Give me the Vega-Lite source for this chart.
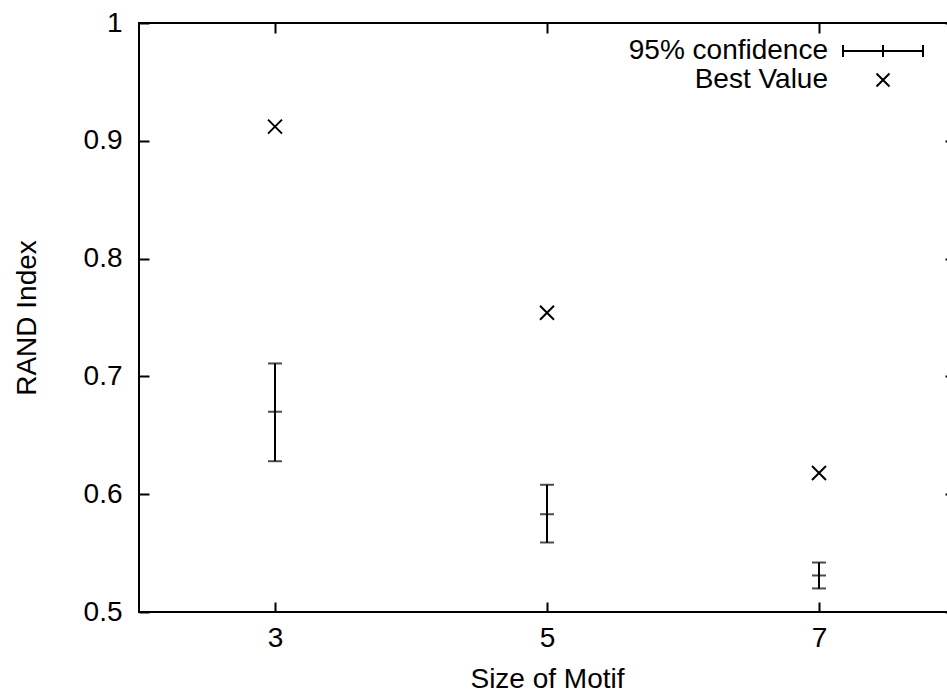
{
  "$schema": "https://vega.github.io/schema/vega-lite/v6.json",
  "autosize": {"type": "none"},
  "padding": {"left": 139, "top": 23, "right": -8, "bottom": 83},
  "width": 816,
  "height": 589,
  "background": "white",
  "config": {
    "font": "Liberation Sans",
    "view": {"stroke": "black", "strokeWidth": 2},
    "axis": {
      "labelFont": "Liberation Sans",
      "titleFont": "Liberation Sans",
      "labelFontSize": 28,
      "titleFontSize": 28,
      "titleFontWeight": "normal",
      "labelColor": "black",
      "titleColor": "black",
      "tickColor": "black",
      "tickWidth": 2,
      "domain": false,
      "grid": false
    },
    "legend": {
      "labelFont": "Liberation Sans",
      "labelFontSize": 28,
      "labelColor": "black",
      "labelLimit": 400
    }
  },
  "data": {
    "values": [
      {"size": 3, "low": 0.628, "mean": 0.670, "high": 0.711, "best": 0.912},
      {"size": 5, "low": 0.559, "mean": 0.583, "high": 0.608, "best": 0.754},
      {"size": 7, "low": 0.520, "mean": 0.531, "high": 0.542, "best": 0.618}
    ]
  },
  "resolve": {"axis": {"x": "independent", "y": "independent"}},
  "layer": [
    {
      "mark": {"type": "rule", "color": "black", "strokeWidth": 2},
      "encoding": {
        "x": {
          "field": "size", "type": "quantitative",
          "scale": {"domain": [2, 8], "nice": false, "zero": false},
          "axis": {"orient": "bottom", "values": [3, 5, 7], "tickSize": -10, "labelPadding": 22, "title": "Size of Motif", "titlePadding": 13}
        },
        "y": {
          "field": "low", "type": "quantitative",
          "scale": {"domain": [0.5, 1], "nice": false, "zero": false},
          "axis": {"orient": "left", "values": [0.5, 0.6, 0.7, 0.8, 0.9, 1], "format": "~g", "tickSize": -10, "labelPadding": 27, "title": "RAND Index", "titlePadding": 42}
        },
        "y2": {"field": "high"}
      }
    },
    {
      "transform": [{"fold": ["low", "mean", "high"], "as": ["stat", "value"]}],
      "mark": {"type": "tick", "orient": "horizontal", "color": "black", "thickness": 2, "size": 14},
      "encoding": {
        "x": {"field": "size", "type": "quantitative", "axis": null},
        "y": {"field": "value", "type": "quantitative", "axis": null}
      }
    },
    {
      "mark": {"type": "point", "filled": false, "stroke": "black", "strokeWidth": 2, "size": 162, "opacity": 1},
      "encoding": {
        "x": {
          "field": "size", "type": "quantitative",
          "axis": {"orient": "top", "values": [3, 5, 7], "tickSize": -10, "labels": false, "title": null}
        },
        "y": {
          "field": "best", "type": "quantitative",
          "axis": {"orient": "right", "values": [0.5, 0.6, 0.7, 0.8, 0.9, 1], "tickSize": -10, "labels": false, "title": null}
        },
        "shape": {
          "datum": "Best Value",
          "scale": {
            "domain": ["95% confidence", "Best Value"],
            "range": ["M-6.76,0H6.76M-6.76,-1V1M0,-1V1M6.76,-1V1", "M-1.1,-1.1L1.1,1.1M-1.1,1.1L1.1,-1.1"]
          },
          "legend": {
            "title": null,
            "orient": "none",
            "legendX": 730,
            "legendY": 14,
            "padding": 0,
            "rowPadding": 1,
            "labelAlign": "right",
            "labelOffset": -69,
            "symbolSize": 140,
            "symbolStrokeWidth": 2,
            "symbolStrokeColor": "black",
            "symbolFillColor": "transparent",
            "symbolOpacity": 1
          }
        }
      }
    }
  ]
}
